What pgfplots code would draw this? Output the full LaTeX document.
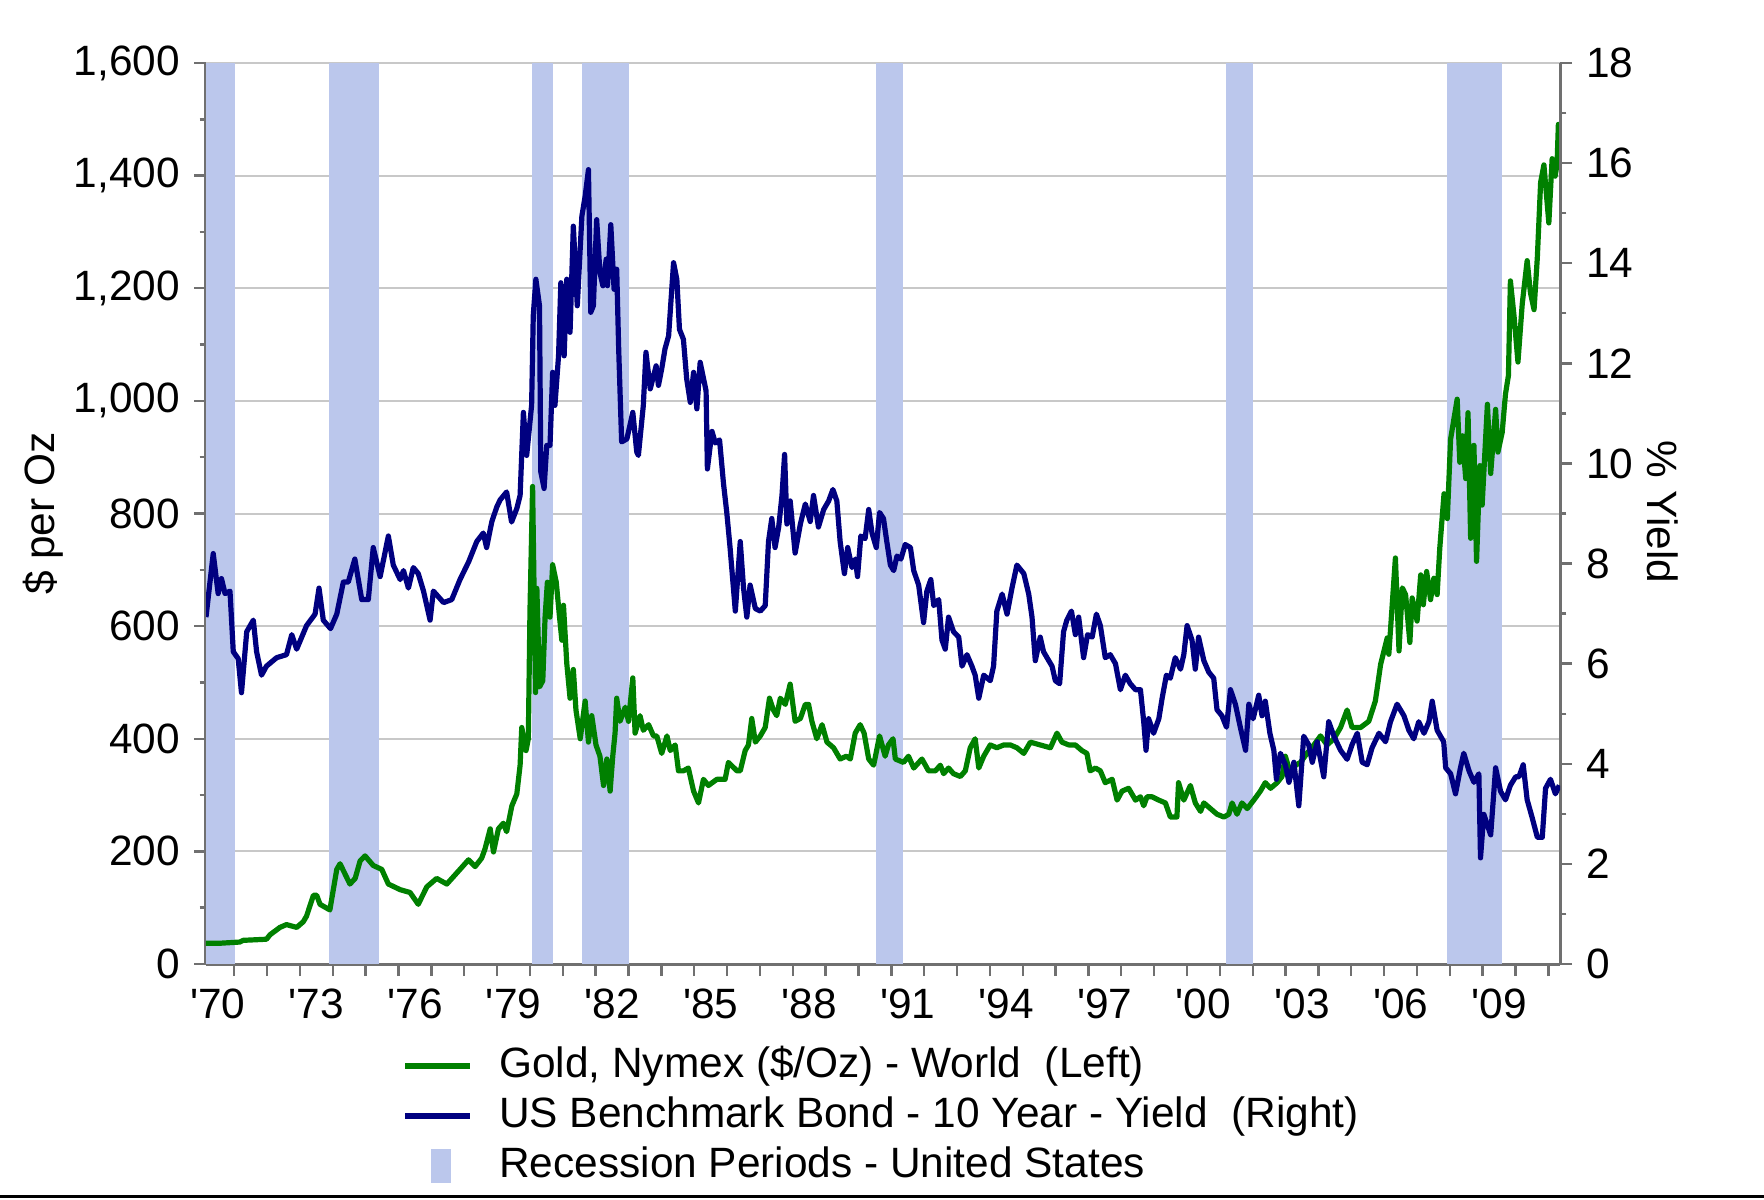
\documentclass[border=0pt]{standalone}
\usepackage{fontspec}
\setmainfont{Liberation Sans}
\usepackage{pgfplots}
\usepackage{pgfplotstable}
\pgfplotsset{compat=1.18}

\definecolor{goldgreen}{RGB}{0,128,0}
\definecolor{bondblue}{RGB}{0,0,128}
\definecolor{recess}{RGB}{187,199,236}
\definecolor{axisgray}{RGB}{112,112,112}
\definecolor{gridgray}{RGB}{200,200,200}

\newcommand\q{\textquotesingle}

% gold, $ per oz (left axis)
\pgfplotstableread{
year val
1970.14 37
1970.60 37
1971.17 39
1971.27 42
1971.98 44
1972.09 52
1972.39 65
1972.59 70
1972.90 65
1973.10 75
1973.20 85
1973.41 122
1973.51 122
1973.61 106
1973.91 96
1974.12 168
1974.22 178
1974.52 142
1974.68 152
1974.83 183
1974.98 192
1975.23 175
1975.49 168
1975.69 142
1976.05 132
1976.35 127
1976.60 106
1976.86 137
1977.16 152
1977.47 142
1977.87 168
1978.13 185
1978.33 173
1978.53 188
1978.63 204
1978.79 240
1978.89 199
1979.04 240
1979.19 250
1979.29 235
1979.45 281
1979.60 302
1979.70 353
1979.75 420
1979.88 379
1979.95 400
1980.00 626
1980.08 848
1980.17 482
1980.21 667
1980.29 492
1980.39 503
1980.46 616
1980.53 678
1980.61 616
1980.69 709
1980.80 678
1980.90 616
1980.97 575
1981.02 637
1981.12 534
1981.22 472
1981.32 523
1981.40 451
1981.53 400
1981.68 467
1981.78 394
1981.88 441
1982.01 389
1982.13 369
1982.24 317
1982.34 364
1982.44 307
1982.52 369
1982.59 410
1982.64 472
1982.74 431
1982.90 456
1983.00 431
1983.13 508
1983.20 410
1983.35 441
1983.45 415
1983.61 425
1983.76 405
1983.86 405
1984.01 374
1984.17 405
1984.27 379
1984.42 389
1984.52 343
1984.67 343
1984.82 348
1984.98 307
1985.13 286
1985.28 328
1985.43 317
1985.69 328
1985.94 328
1986.04 358
1986.30 343
1986.40 343
1986.55 379
1986.65 389
1986.75 436
1986.86 394
1987.01 405
1987.16 420
1987.29 472
1987.41 451
1987.51 441
1987.62 472
1987.77 461
1987.92 497
1988.07 431
1988.23 436
1988.38 461
1988.48 461
1988.58 431
1988.73 400
1988.89 425
1989.04 394
1989.24 384
1989.44 364
1989.63 369
1989.75 364
1989.90 410
1990.05 425
1990.17 410
1990.31 364
1990.46 353
1990.64 405
1990.81 369
1990.91 389
1991.05 400
1991.12 364
1991.37 358
1991.52 369
1991.68 348
1991.93 364
1992.13 343
1992.34 343
1992.49 353
1992.59 338
1992.74 348
1992.89 338
1993.10 333
1993.25 343
1993.40 384
1993.55 400
1993.66 348
1993.81 369
1994.01 389
1994.21 384
1994.42 389
1994.62 389
1994.82 384
1995.03 374
1995.23 394
1995.53 389
1995.84 384
1996.04 410
1996.19 394
1996.40 389
1996.60 389
1996.80 379
1996.95 374
1997.05 343
1997.21 348
1997.36 343
1997.51 322
1997.72 328
1997.87 291
1998.02 307
1998.22 312
1998.43 291
1998.58 297
1998.68 281
1998.78 297
1998.93 297
1999.14 291
1999.34 286
1999.49 261
1999.69 261
1999.74 322
1999.90 291
2000.10 317
2000.25 286
2000.41 271
2000.51 286
2000.71 276
2000.91 266
2001.12 261
2001.27 266
2001.37 286
2001.52 266
2001.67 286
2001.83 276
2002.03 291
2002.23 307
2002.38 322
2002.54 312
2002.74 322
2002.89 333
2002.99 369
2003.15 338
2003.30 353
2003.45 358
2003.65 374
2003.86 389
2004.06 405
2004.26 389
2004.47 400
2004.67 420
2004.87 451
2005.02 420
2005.28 420
2005.53 431
2005.73 467
2005.89 532
2006.09 579
2006.14 550
2006.34 721
2006.45 556
2006.55 668
2006.65 656
2006.78 571
2006.85 650
2007.00 609
2007.11 691
2007.19 638
2007.29 697
2007.41 647
2007.51 685
2007.61 656
2007.69 738
2007.82 835
2007.92 791
2008.02 932
2008.22 1003
2008.30 891
2008.38 938
2008.48 862
2008.55 979
2008.63 756
2008.73 921
2008.81 715
2008.91 885
2008.98 815
2009.14 994
2009.24 871
2009.39 985
2009.46 909
2009.59 944
2009.69 1012
2009.78 1045
2009.84 1213
2009.95 1151
2010.07 1069
2010.20 1172
2010.35 1249
2010.45 1192
2010.56 1162
2010.66 1255
2010.76 1388
2010.86 1419
2011.01 1316
2011.11 1430
2011.20 1399
2011.26 1420
2011.30 1491
2011.35 1491
}\gold

% US 10 year yield, % (right axis)
\pgfplotstableread{
year val
1970.14 6.93
1970.36 8.20
1970.51 7.40
1970.61 7.70
1970.72 7.40
1970.87 7.45
1970.97 6.24
1971.12 6.10
1971.22 5.42
1971.38 6.64
1971.58 6.87
1971.68 6.24
1971.83 5.77
1971.98 5.95
1972.29 6.12
1972.59 6.18
1972.75 6.58
1972.90 6.29
1973.20 6.76
1973.46 6.99
1973.58 7.51
1973.71 6.87
1973.93 6.70
1974.12 6.99
1974.32 7.63
1974.47 7.63
1974.67 8.09
1974.88 7.28
1975.08 7.28
1975.23 8.32
1975.44 7.74
1975.69 8.55
1975.84 7.97
1976.05 7.68
1976.15 7.86
1976.30 7.51
1976.45 7.92
1976.60 7.80
1976.76 7.45
1976.96 6.87
1977.06 7.45
1977.37 7.22
1977.62 7.28
1977.87 7.68
1978.13 8.03
1978.38 8.44
1978.58 8.61
1978.68 8.32
1978.84 8.84
1978.99 9.13
1979.09 9.27
1979.29 9.43
1979.44 8.83
1979.60 9.10
1979.70 9.36
1979.80 11.02
1979.90 10.16
1980.05 11.16
1980.10 12.95
1980.18 13.68
1980.29 13.15
1980.33 9.83
1980.43 9.50
1980.51 10.36
1980.61 10.36
1980.69 11.82
1980.76 11.16
1980.87 12.15
1980.94 13.61
1981.04 12.15
1981.12 13.68
1981.22 12.62
1981.32 14.74
1981.44 13.15
1981.58 14.94
1981.68 15.34
1981.78 15.87
1981.85 13.02
1981.93 13.15
1982.03 14.87
1982.13 13.81
1982.22 13.55
1982.32 14.08
1982.36 13.55
1982.46 14.77
1982.56 13.48
1982.64 13.88
1982.70 12.29
1982.79 10.43
1982.95 10.49
1983.13 11.02
1983.25 10.23
1983.30 10.16
1983.45 11.16
1983.53 12.22
1983.66 11.49
1983.84 11.95
1983.91 11.56
1984.01 11.89
1984.11 12.29
1984.22 12.55
1984.37 14.01
1984.47 13.68
1984.55 12.68
1984.67 12.48
1984.77 11.69
1984.88 11.22
1984.98 11.82
1985.08 11.09
1985.18 12.02
1985.36 11.45
1985.40 9.89
1985.54 10.64
1985.64 10.41
1985.77 10.47
1985.89 9.60
1985.99 9.02
1986.09 8.32
1986.25 7.05
1986.40 8.44
1986.50 7.51
1986.60 6.93
1986.70 7.57
1986.86 7.10
1987.01 7.05
1987.16 7.16
1987.26 8.44
1987.36 8.90
1987.46 8.32
1987.57 8.73
1987.67 9.36
1987.75 10.18
1987.82 8.79
1987.92 9.25
1988.07 8.21
1988.23 8.79
1988.38 9.19
1988.53 8.84
1988.63 9.36
1988.78 8.73
1988.94 9.08
1989.09 9.25
1989.22 9.48
1989.34 9.25
1989.44 8.44
1989.57 7.80
1989.67 8.32
1989.80 7.92
1989.90 8.09
1989.97 7.74
1990.07 8.55
1990.20 8.50
1990.31 9.08
1990.41 8.61
1990.54 8.32
1990.64 9.02
1990.76 8.90
1990.86 8.44
1990.97 7.97
1991.07 7.86
1991.17 8.15
1991.29 8.09
1991.42 8.38
1991.58 8.32
1991.68 7.86
1991.83 7.57
1991.98 6.82
1992.08 7.45
1992.20 7.68
1992.29 7.16
1992.44 7.28
1992.54 6.47
1992.64 6.29
1992.74 6.93
1992.89 6.64
1993.05 6.53
1993.15 5.95
1993.30 6.18
1993.45 5.95
1993.55 5.77
1993.66 5.31
1993.81 5.77
1994.01 5.66
1994.11 5.95
1994.21 7.05
1994.37 7.39
1994.52 6.99
1994.67 7.51
1994.82 7.97
1995.03 7.80
1995.18 7.39
1995.28 6.93
1995.38 6.06
1995.53 6.53
1995.63 6.24
1995.79 6.06
1995.89 5.95
1995.99 5.66
1996.12 5.60
1996.24 6.64
1996.34 6.87
1996.48 7.05
1996.60 6.58
1996.70 6.93
1996.85 6.12
1996.97 6.58
1997.11 6.53
1997.24 6.99
1997.36 6.76
1997.51 6.12
1997.66 6.18
1997.82 6.00
1997.97 5.48
1998.12 5.77
1998.27 5.60
1998.43 5.48
1998.58 5.48
1998.68 4.84
1998.75 4.27
1998.83 4.90
1998.98 4.61
1999.14 4.90
1999.24 5.31
1999.37 5.77
1999.49 5.71
1999.64 6.12
1999.80 5.89
1999.90 6.18
2000.00 6.76
2000.15 6.47
2000.25 5.89
2000.35 6.53
2000.51 6.06
2000.66 5.83
2000.81 5.71
2000.91 5.08
2001.06 4.96
2001.20 4.73
2001.32 5.48
2001.47 5.19
2001.62 4.73
2001.78 4.27
2001.88 5.19
2002.01 4.90
2002.18 5.37
2002.28 4.96
2002.38 5.25
2002.52 4.61
2002.64 4.27
2002.72 3.69
2002.84 4.21
2002.99 3.98
2003.10 3.63
2003.25 4.03
2003.40 3.16
2003.55 4.55
2003.70 4.38
2003.81 4.03
2003.96 4.44
2004.16 3.74
2004.31 4.84
2004.47 4.55
2004.67 4.27
2004.87 4.09
2005.02 4.38
2005.18 4.61
2005.33 4.03
2005.48 3.98
2005.63 4.32
2005.84 4.61
2006.04 4.44
2006.19 4.84
2006.39 5.19
2006.60 4.96
2006.75 4.67
2006.90 4.50
2007.05 4.84
2007.21 4.61
2007.36 4.84
2007.46 5.25
2007.61 4.67
2007.81 4.44
2007.87 3.92
2008.02 3.80
2008.17 3.40
2008.32 3.92
2008.42 4.21
2008.58 3.86
2008.73 3.63
2008.88 3.80
2008.93 2.12
2009.03 2.99
2009.24 2.58
2009.39 3.92
2009.54 3.45
2009.69 3.28
2009.84 3.57
2010.00 3.74
2010.10 3.74
2010.23 3.98
2010.35 3.28
2010.50 2.93
2010.66 2.53
2010.81 2.53
2010.91 3.51
2011.06 3.69
2011.21 3.40
2011.33 3.57
}\yield

\pgfplotsset{
  twin/.style={
    at={(0pt,0pt)}, anchor=south west,
    scale only axis, width=338.5pt, height=225.25pt,
    xmin=1970.14, xmax=2011.35,
    font=\fontsize{10.6}{12.7}\selectfont,
    axis line style={draw=axisgray, line width=0.75pt, -},
    tick align=outside,
    major tick length=3pt, minor tick length=1.6pt,
    every tick/.style={draw=axisgray, line width=0.6pt},
  },
  recband/.style={fill=recess, draw=none, forget plot},
}

\begin{document}
\begin{tikzpicture}
\useasboundingbox (-51.5pt,-58.75pt) rectangle (389.5pt,241pt);

\begin{axis}[twin,
  ymin=0, ymax=1600,
  axis x line*=bottom, axis y line*=left,
  xtick={1971,1972,...,2011}, xticklabels={},
  extra x ticks={1970.5,1973.5,1976.5,1979.5,1982.5,1985.5,1988.5,1991.5,1994.5,1997.5,2000.5,2003.5,2006.5,2009.5},
  extra x tick labels={\q70,\q73,\q76,\q79,\q82,\q85,\q88,\q91,\q94,\q97,\q00,\q03,\q06,\q09},
  extra x tick style={major tick length=0pt, grid=none},
  xticklabel style={yshift=-2.8pt},
  ytick={0,200,...,1600}, minor ytick={100,300,...,1500},
  yticklabels={0,200,400,600,800,{1,000},{1,200},{1,400},{1,600}},
  ymajorgrids, major grid style={draw=gridgray, line width=0.5pt},
]
\addplot[recband] coordinates {(1970.14,0) (1970.14,1600) (1971.01,1600) (1971.01,0)} -- cycle;
\addplot[recband] coordinates {(1973.89,0) (1973.89,1600) (1975.41,1600) (1975.41,0)} -- cycle;
\addplot[recband] coordinates {(1980.05,0) (1980.05,1600) (1980.71,1600) (1980.71,0)} -- cycle;
\addplot[recband] coordinates {(1981.58,0) (1981.58,1600) (1983.00,1600) (1983.00,0)} -- cycle;
\addplot[recband] coordinates {(1990.53,0) (1990.53,1600) (1991.35,1600) (1991.35,0)} -- cycle;
\addplot[recband] coordinates {(2001.17,0) (2001.17,1600) (2002.00,1600) (2002.00,0)} -- cycle;
\addplot[recband] coordinates {(2007.92,0) (2007.92,1600) (2009.59,1600) (2009.59,0)} -- cycle;
\addplot[goldgreen, line width=1.3pt, line join=round, forget plot] table[x=year, y=val] {\gold};
\end{axis}

\begin{axis}[twin,
  ymin=0, ymax=18,
  axis x line=none, axis y line*=right,
  ytick={0,2,...,18}, minor ytick={1,3,...,17},
  yticklabels={0,2,4,6,8,10,12,14,16,18},
  legend image code/.code={\draw[#1] (0pt,0pt) -- (16.3pt,0pt);},
  legend cell align=left,
  legend style={draw=none, fill=none, inner sep=0pt, row sep=2pt,
    at={(0.1445,-0.089)}, anchor=north west,
    nodes={inner sep=0pt, text height=8pt, text depth=2.5pt},
    /tikz/every odd column/.append style={column sep=6.6pt}},
]
\addlegendimage{goldgreen, line width=1.3pt}
\addlegendentry{Gold, Nymex (\$/Oz) - World\ \ (Left)}
\addplot[bondblue, line width=1.3pt, line join=round] table[x=year, y=val] {\yield};
\addlegendentry{US Benchmark Bond - 10 Year - Yield\ \ (Right)}
\addlegendimage{legend image code/.code={\path[draw=none] (0pt,0pt) -- (16.3pt,0pt); \fill[recess] (6.75pt,-4pt) rectangle (11.25pt,4pt);}}
\addlegendentry{Recession Periods - United States}
\end{axis}

\node[rotate=90, font=\fontsize{10.6}{12.7}\selectfont] at (-40.8pt,112.6pt) {\$ per Oz};
\node[rotate=-90, font=\fontsize{10.6}{12.7}\selectfont] at (364.2pt,113pt) {\% Yield};
\draw[line width=0.8pt] (-51.5pt,-58.2pt) -- (389.5pt,-58.2pt);
\end{tikzpicture}
\end{document}
